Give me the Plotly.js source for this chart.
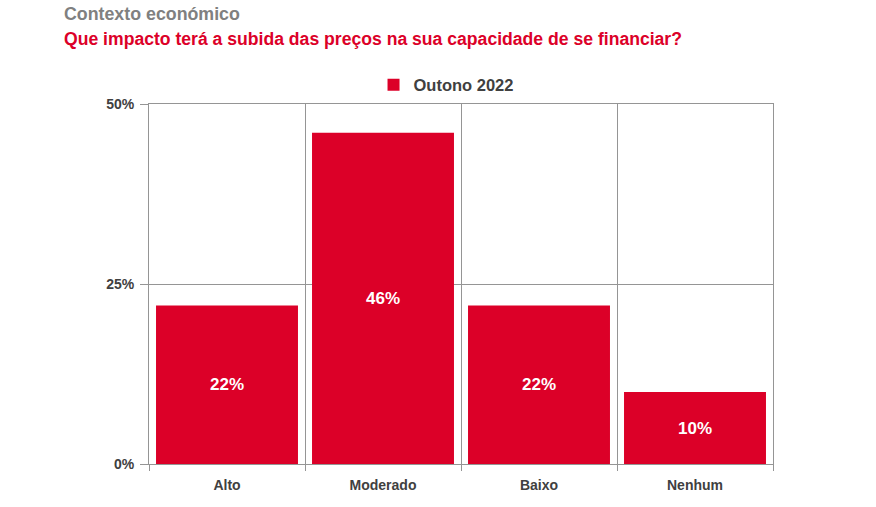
<!DOCTYPE html>
<html>
<head>
<meta charset="utf-8">
<script src="https://cdn.plot.ly/plotly-3.0.1.min.js"></script>
<style>html,body{margin:0;padding:0;background:#fff;}#chart{width:876px;height:507px;}</style>
</head>
<body>
<div id="chart"></div>
<script>
const categories = ["Alto", "Moderado", "Baixo", "Nenhum"];
const values = [22, 46, 22, 10];
const seriesName = "Outono 2022";
const yTickVals = [0, 25, 50];
const yTickText = ["0%", "25%", "50%"];
const supTitle = "Contexto económico";
const mainTitle = "Que impacto terá a subida das preços na sua capacidade de se financiar?";

const FONT = "'Liberation Sans', Arial, sans-serif";
const RED = "#dc0028";
const GRID = "#959595";

const trace = {
  type: "bar",
  x: categories,
  y: values,
  name: seriesName,
  marker: {color: RED},
  text: values.map(v => v + "%"),
  textposition: "inside",
  insidetextanchor: "middle",
  textangle: 0,
  textfont: {family: FONT, size: 17, color: "#ffffff", weight: "bold"},
  hoverinfo: "none"
};

const layout = {
  width: 876, height: 507,
  margin: {l: 149, r: 103, t: 104, b: 43},
  paper_bgcolor: "#fff", plot_bgcolor: "#fff",
  bargap: 0.09,
  showlegend: true,
  legend: {orientation: "h", x: 0.476, xanchor: "center", y: 1.053, yanchor: "middle",
    font: {family: FONT, size: 16.5, color: "#404040", weight: "bold"}, itemwidth: 30},
  xaxis: {type: "category", tickson: "boundaries", showgrid: true, gridcolor: GRID, gridwidth: 1,
    ticks: "outside", ticklen: 6, tickcolor: GRID, showline: true, mirror: true, linecolor: GRID,
    ticklabelstandoff: 8,
    tickfont: {family: FONT, size: 14, color: "#404040", weight: "bold"}, fixedrange: true},
  yaxis: {range: [0, 50], tickvals: yTickVals, ticktext: yTickText, showgrid: true, gridcolor: GRID,
    ticks: "outside", ticklen: 8, tickcolor: GRID, zeroline: false, showline: true, mirror: true, linecolor: GRID,
    ticklabelstandoff: 3,
    tickfont: {family: FONT, size: 14, color: "#404040", weight: "bold"}, fixedrange: true},
  annotations: [
    {text: supTitle, xref: "paper", yref: "paper", x: -0.14, y: 1.25, xanchor: "left", yanchor: "middle",
      showarrow: false, font: {family: FONT, size: 17.8, color: "#808080", weight: "bold"}},
    {text: mainTitle, xref: "paper", yref: "paper", x: -0.14, y: 1.18, xanchor: "left", yanchor: "middle",
      showarrow: false, font: {family: FONT, size: 17.6, color: RED, weight: "bold"}}
  ]
};

Plotly.newPlot("chart", [trace], layout, {displayModeBar: false, staticPlot: true});
</script>
</body>
</html>
